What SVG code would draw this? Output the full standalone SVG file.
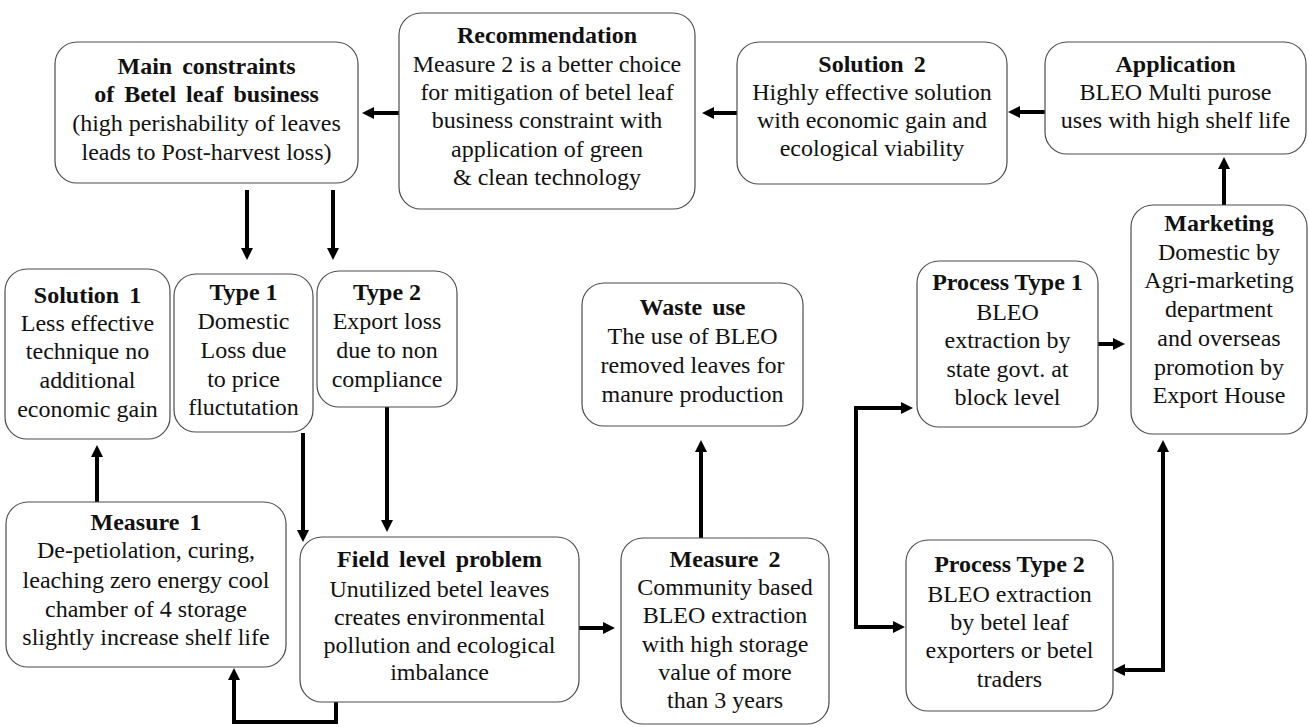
<svg xmlns="http://www.w3.org/2000/svg" width="1309" height="727" viewBox="0 0 1309 727">
<defs>
<style>
.box{fill:#ffffff;stroke:#4d4d4d;stroke-width:1.2}
.t{font-family:'Liberation Serif','Times New Roman',serif;font-size:24px;fill:#111111;text-anchor:middle}
.b{font-weight:bold}
.ws{word-spacing:4px}
.c{fill:none;stroke:#000000;stroke-width:4}
.a{marker-end:url(#ah)}
.ab{marker-start:url(#ah);marker-end:url(#ah)}
</style>
<marker id="ah" markerUnits="userSpaceOnUse" markerWidth="12" markerHeight="12" viewBox="0 0 12 12" refX="4" refY="6" orient="auto-start-reverse">
<path d="M0,0 L12,6 L0,12 z" fill="#000000"/>
</marker>
</defs>
<rect width="1309" height="727" fill="#ffffff"/>

<g id="connectors">
<path class="c a" d="M399,113 H370"/>
<path class="c a" d="M737,113 H710"/>
<path class="c a" d="M1045,112 H1016"/>
<path class="c a" d="M1224,205 V165"/>
<path class="c a" d="M247,190 V252"/>
<path class="c a" d="M333,190 V252"/>
<path class="c a" d="M97,502 V453"/>
<path class="c a" d="M303,433 V534"/>
<path class="c a" d="M387,407 V524"/>
<path class="c a" d="M336,702 V722 H234 V676"/>
<path class="c a" d="M579,628 H607"/>
<path class="c a" d="M701,538 V448"/>
<path class="c ab" d="M905,408 H856 V627 H897"/>
<path class="c ab" d="M1121,670 H1163 V448"/>
<path class="c a" d="M1097,344 H1117"/>
</g>

<g id="main-constraints">
<rect class="box" x="55" y="42" width="303" height="141" rx="22"/>
<text class="t b ws" x="206.5" y="74">Main constraints</text>
<text class="t b ws" x="206.5" y="102">of Betel leaf business</text>
<text class="t" x="206.5" y="131">(high perishability of leaves</text>
<text class="t" x="206.5" y="160">leads to Post-harvest loss)</text>
</g>

<g id="recommendation">
<rect class="box" x="399" y="13" width="296" height="196" rx="22"/>
<text class="t b" x="547" y="43">Recommendation</text>
<text class="t" x="547" y="72">Measure 2 is a better choice</text>
<text class="t" x="547" y="100">for mitigation of betel leaf</text>
<text class="t" x="547" y="128">business constraint with</text>
<text class="t" x="547" y="157">application of green</text>
<text class="t" x="547" y="185">&amp; clean technology</text>
</g>

<g id="solution2">
<rect class="box" x="737" y="42" width="270" height="142" rx="22"/>
<text class="t b ws" x="872" y="72">Solution 2</text>
<text class="t" x="872" y="100">Highly effective solution</text>
<text class="t" x="872" y="128">with economic gain and</text>
<text class="t" x="872" y="156">ecological viability</text>
</g>

<g id="application">
<rect class="box" x="1045" y="42" width="261" height="112" rx="22"/>
<text class="t b" x="1175.5" y="72">Application</text>
<text class="t" x="1175.5" y="100">BLEO Multi purose</text>
<text class="t" x="1175.5" y="128">uses with high shelf life</text>
</g>

<g id="marketing">
<rect class="box" x="1131" y="205" width="176" height="229" rx="22"/>
<text class="t b" x="1219" y="231">Marketing</text>
<text class="t" x="1219" y="260">Domestic by</text>
<text class="t" x="1219" y="288">Agri-marketing</text>
<text class="t" x="1219" y="317">department</text>
<text class="t" x="1219" y="346">and overseas</text>
<text class="t" x="1219" y="375">promotion by</text>
<text class="t" x="1219" y="403">Export House</text>
</g>

<g id="solution1">
<rect class="box" x="5" y="269" width="165" height="170" rx="22"/>
<text class="t b ws" x="87.5" y="303">Solution 1</text>
<text class="t" x="87.5" y="331">Less effective</text>
<text class="t" x="87.5" y="359">technique no</text>
<text class="t" x="87.5" y="388">additional</text>
<text class="t" x="87.5" y="417">economic gain</text>
</g>

<g id="type1">
<rect class="box" x="174" y="274" width="139" height="158" rx="22"/>
<text class="t b" x="243.5" y="300">Type 1</text>
<text class="t" x="243.5" y="329">Domestic</text>
<text class="t" x="243.5" y="358">Loss due</text>
<text class="t" x="243.5" y="387">to price</text>
<text class="t" x="243.5" y="415">fluctutation</text>
</g>

<g id="type2">
<rect class="box" x="317" y="271" width="140" height="136" rx="22"/>
<text class="t b" x="387" y="300">Type 2</text>
<text class="t" x="387" y="329">Export loss</text>
<text class="t" x="387" y="358">due to non</text>
<text class="t" x="387" y="387">compliance</text>
</g>

<g id="waste-use">
<rect class="box" x="582" y="283" width="221" height="143" rx="22"/>
<text class="t b ws" x="692.5" y="315">Waste use</text>
<text class="t" x="692.5" y="344">The use of BLEO</text>
<text class="t" x="692.5" y="373">removed leaves for</text>
<text class="t" x="692.5" y="402">manure production</text>
</g>

<g id="process-type1">
<rect class="box" x="917" y="261" width="181" height="166" rx="22"/>
<text class="t b" x="1007.5" y="290">Process Type 1</text>
<text class="t" x="1007.5" y="320">BLEO</text>
<text class="t" x="1007.5" y="348">extraction by</text>
<text class="t" x="1007.5" y="377">state govt. at</text>
<text class="t" x="1007.5" y="405">block level</text>
</g>

<g id="measure1">
<rect class="box" x="6" y="502" width="280" height="165" rx="22"/>
<text class="t b ws" x="146" y="530">Measure 1</text>
<text class="t" x="146" y="558">De-petiolation, curing,</text>
<text class="t" x="146" y="588">leaching zero energy cool</text>
<text class="t" x="146" y="617">chamber of 4 storage</text>
<text class="t" x="146" y="645">slightly increase shelf life</text>
</g>

<g id="field-level-problem">
<rect class="box" x="300" y="537" width="279" height="165" rx="22"/>
<text class="t b ws" x="439.5" y="567">Field level problem</text>
<text class="t" x="439.5" y="597">Unutilized betel leaves</text>
<text class="t" x="439.5" y="625">creates environmental</text>
<text class="t" x="439.5" y="653">pollution and ecological</text>
<text class="t" x="439.5" y="680">imbalance</text>
</g>

<g id="measure2">
<rect class="box" x="621" y="538" width="208" height="186" rx="22"/>
<text class="t b ws" x="725" y="567">Measure 2</text>
<text class="t" x="725" y="595">Community based</text>
<text class="t" x="725" y="623">BLEO extraction</text>
<text class="t" x="725" y="652">with high storage</text>
<text class="t" x="725" y="680">value of more</text>
<text class="t" x="725" y="708">than 3 years</text>
</g>

<g id="process-type2">
<rect class="box" x="906" y="540" width="207" height="171" rx="22"/>
<text class="t b" x="1009.5" y="572">Process Type 2</text>
<text class="t" x="1009.5" y="602">BLEO extraction</text>
<text class="t" x="1009.5" y="630">by betel leaf</text>
<text class="t" x="1009.5" y="658">exporters or betel</text>
<text class="t" x="1009.5" y="687">traders</text>
</g>
</svg>
